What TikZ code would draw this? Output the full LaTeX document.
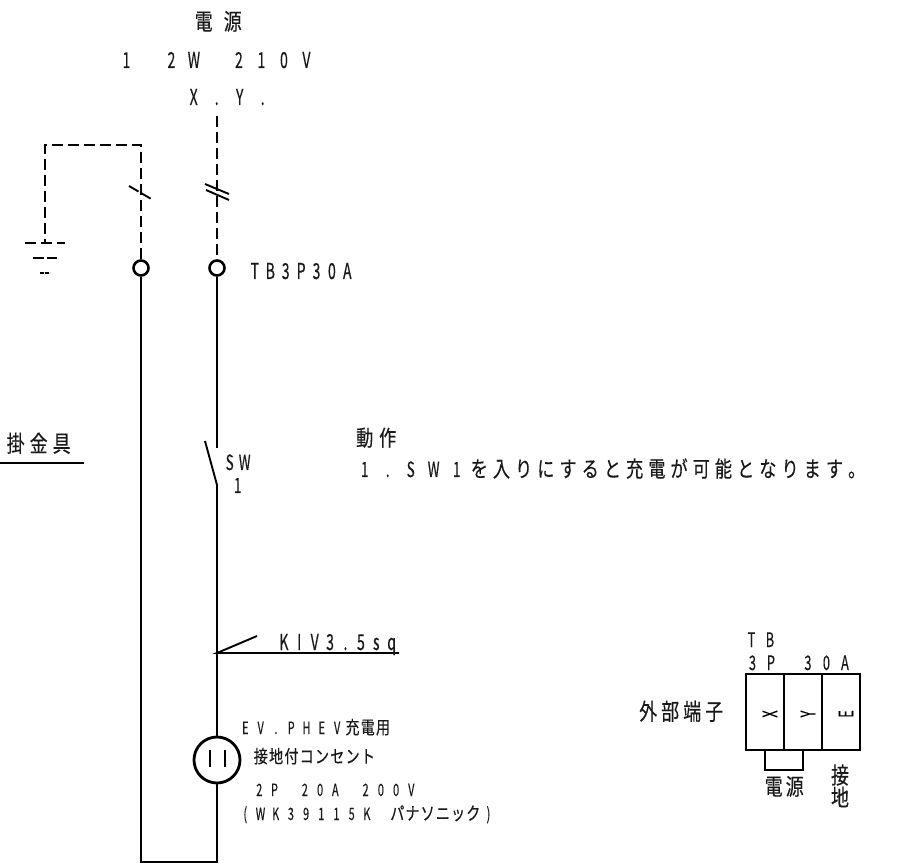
\documentclass[tikz,border=0pt]{standalone}
\usepackage{fontspec}
\usetikzlibrary{positioning}
\newfontfamily\latf[FakeStretch=0.64,FakeBold=0.25]{Noto Sans CJK JP}
\newfontfamily\jpf[FakeStretch=0.78,FakeBold=0.35]{Noto Sans CJK JP}
\newcommand\pitched[2]{\def\pitchwd{#1}\pitchloop#2\relax}
\def\pitchloop#1{\ifx#1\relax\else\makebox[\pitchwd][c]{#1}\expandafter\pitchloop\fi}
\tikzset{
    wire/.style={line width=2.8pt},
    dashwire/.style={line width=2.5pt, dash pattern=on 11pt off 5pt},
    thinwire/.style={line width=1.9pt},
    cadtext/.style={inner sep=0pt, anchor=base west, text=black!90},
    terminal/.style={shape=circle, draw=black, line width=2.6pt, inner sep=0pt, minimum size=15pt},
    cell/.style={shape=rectangle, draw=black, line width=2.4pt, minimum width=38pt, minimum height=76pt}
}
\begin{document}
\begin{tikzpicture}[x=1pt, y=-1pt]
        \useasboundingbox (0,0) rectangle (900,866);

        \node[terminal] (TA) at (141,268) {};
        \node[terminal] (TB) at (217,268) {};
        \node[shape=circle, draw=black, line width=2.8pt, minimum size=46pt] (OUT) at (217,760) {};

        \coordinate (SRC) at (217,116);
        \coordinate (GT) at (45,145);
        \coordinate (AT) at (141,145);
        \coordinate (GND) at (45,243);
        \coordinate (SWU) at (217,448);
        \coordinate (SWL) at (217,485);
        \coordinate (SWB) at (205,441);
        \coordinate (JCT) at (217,653);
        \coordinate (LDR) at (399,653);
        \coordinate (LDS) at (257,636);
        \coordinate (BL) at (141,862);
        \coordinate (BR) at (217,862);
        \coordinate (HL) at (0,463);
        \coordinate (HR) at (84,463);

        \path [dashwire] (SRC) edge (TB);
        \draw [dashwire] (TA) -- (AT) -- (GT) -- (GND);
        \draw [dashwire] (25,243) -- (65,243);
        \draw [dashwire, dash pattern=on 11pt off 3pt] (33,258) -- (57,258);
        \draw [dashwire, dash pattern=on 4pt off 1pt] (40,273) -- (50,273);
        \draw [thinwire, dash pattern=on 11pt off 3pt] (129,186) -- (153,200);
        \draw [thinwire] (205,184) -- (229,194);
        \draw [thinwire] (206,190) -- (229,200);

        \draw [wire] (TA) -- (BL) -- (BR) -- (OUT);
        \draw [wire] (TB) -- (SWU);
        \draw [thinwire] (SWB) -- (SWL);
        \draw [wire] (SWL) -- (JCT) -- (OUT);
        \draw [thinwire] (LDS) -- (JCT) -- (LDR);
        \draw [wire] (210,750) -- (210,767);
        \draw [wire] (225,750) -- (225,767);
        \draw [thinwire] (HL) -- (HR);

        \node[cell] (CX) at (765,712) {};
        \node[cell] (CY) at (803,712) {};
        \node[cell] (CE) at (841,712) {};
        \draw [thinwire] (CX.south) -- ++(0,19) -| (CY.south);

        \node[cadtext, font=\jpf\fontsize{23}{24}\selectfont] (PWR) at (189,30) {\pitched{29pt}{電源}};
        \node[cadtext, font=\latf\fontsize{22}{24}\selectfont] (VOLT) at (115,68) {\pitched{22.5pt}{1~2W~210V}};
        \node[cadtext, font=\latf\fontsize{22}{24}\selectfont] (PHASE) at (182,105) {\pitched{23pt}{X.Y.}};
        \node[cadtext, font=\latf\fontsize{22}{24}\selectfont] (TBL) at (247,279) {\pitched{15.4pt}{TB3P30A}};
        \node[cadtext, font=\jpf\fontsize{23}{24}\selectfont] (HOOK) at (4,452) {\pitched{23pt}{掛金具}};
        \node[cadtext, font=\latf\fontsize{21}{24}\selectfont] (SWA) at (222,470) {\pitched{15pt}{SW}};
        \node[cadtext, font=\latf\fontsize{21}{24}\selectfont] (SWN) at (230,493) {\pitched{15pt}{1}};
        \node[cadtext, font=\jpf\fontsize{22}{24}\selectfont] (OPH) at (353,446) {\pitched{23pt}{動作}};
        \node[cadtext] (OPL) at (353,477) {{\latf\fontsize{21}{24}\selectfont\pitched{23pt}{1.SW1}}{\jpf\fontsize{22}{24}\selectfont\pitched{22.2pt}{を入りにすると充電が可能となります。}}};
        \node[cadtext, font=\latf\fontsize{22}{24}\selectfont] (KIV) at (276,650) {\pitched{15.4pt}{KIV3.5sq}};
        \node[cadtext] (EVL) at (237.5,734) {{\latf\fontsize{17}{20}\selectfont\pitched{15.3pt}{EV.PHEV}}{\jpf\fontsize{18}{20}\selectfont\pitched{15.3pt}{充電用}}};
        \node[cadtext, font=\jpf\fontsize{18}{20}\selectfont] (RCP) at (253,763) {\pitched{15.3pt}{接地付コンセント}};
        \node[cadtext, font=\latf\fontsize{17}{20}\selectfont] (RTG) at (251.5,796) {\pitched{15.2pt}{2P~20A~200V}};
        \node[cadtext] (MDL) at (237.5,820) {{\latf\fontsize{17}{20}\selectfont\pitched{15.2pt}{(WK39115K~}}{\jpf\fontsize{18}{20}\selectfont\pitched{15.2pt}{パナソニック}}{\latf\fontsize{17}{20}\selectfont\pitched{15.2pt}{)}}};
        \node[cadtext, font=\latf\fontsize{20}{24}\selectfont] (CTB) at (742,647) {\pitched{18.5pt}{TB}};
        \node[cadtext, font=\latf\fontsize{20}{24}\selectfont] (CTA) at (743,670) {\pitched{18.5pt}{3P~30A}};
        \node[cadtext, font=\jpf\fontsize{23}{24}\selectfont] (EXT) at (637,720) {\pitched{22pt}{外部端子}};
        \node[cadtext, font=\jpf\fontsize{23}{24}\selectfont] (SUP) at (763,795) {\pitched{21pt}{電源}};
        \node[inner sep=0pt, font=\jpf\fontsize{23}{24}\selectfont, text=black!90] (EA) at (840,775) {接};
        \node[inner sep=0pt, font=\jpf\fontsize{23}{24}\selectfont, text=black!90] (EB) at (840,797) {地};
        \node[inner sep=0pt, rotate=90, font=\latf\fontsize{20}{24}\selectfont] (LX) at (770,714) {X};
        \node[inner sep=0pt, rotate=90, font=\latf\fontsize{20}{24}\selectfont] (LY) at (808,714) {Y};
        \node[inner sep=0pt, rotate=90, font=\latf\fontsize{20}{24}\selectfont] (LE) at (846,714) {E};

    \end{tikzpicture}
\end{document}
